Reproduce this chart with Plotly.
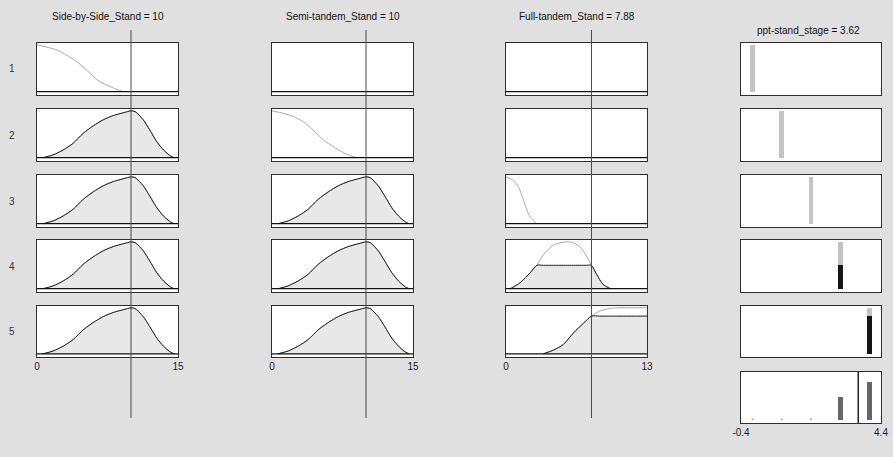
import plotly.graph_objects as go
import numpy as np

W, H = 893, 457

# ---------------- data ----------------
input_names = ["Side-by-Side_Stand", "Semi-tandem_Stand", "Full-tandem_Stand"]
input_values = [10, 10, 7.88]
input_ranges = [[0, 15], [0, 15], [0, 13]]
input_tick_text = [["0", "15"], ["0", "15"], ["0", "13"]]

output_name = "ppt-stand_stage"
output_value = 3.62
output_range = [-0.4, 4.4]
output_tick_text = ["-0.4", "4.4"]

rule_labels = ["1", "2", "3", "4", "5"]

# membership function curves (x, mu)
sbs_low_x = [0, 1.0, 2.1, 3.18, 4.24, 5.3, 6.36, 7.4, 8.5, 9.2]
sbs_low_y = [1.0, 0.955, 0.89, 0.78, 0.64, 0.46, 0.26, 0.14, 0.05, 0.0]
sbs_high_x = [0.64, 1.71, 2.78, 3.85, 4.91, 5.98, 7.05, 8.12, 9.19, 10.0, 10.44, 11.3, 12.0, 12.75, 13.46, 14.2, 14.6]
sbs_high_y = [0.0, 0.06, 0.165, 0.31, 0.52, 0.68, 0.81, 0.90, 0.96, 1.0, 0.985, 0.81, 0.59, 0.34, 0.165, 0.036, 0.0]
semi_low_x = [0, 1.18, 2.25, 3.32, 4.39, 5.46, 6.54, 7.6, 8.68, 9.2]
semi_low_y = [1.0, 0.95, 0.88, 0.77, 0.59, 0.38, 0.235, 0.107, 0.02, 0.0]
semi_high_x = [0.64, 1.71, 2.78, 3.85, 4.91, 5.98, 7.05, 8.12, 9.19, 10.0, 10.44, 11.3, 12.0, 12.75, 13.46, 14.2, 14.6]
semi_high_y = [0.0, 0.06, 0.165, 0.31, 0.52, 0.68, 0.81, 0.90, 0.96, 1.0, 0.985, 0.81, 0.59, 0.34, 0.165, 0.036, 0.0]
full_low_x = [0, 0.7, 1.16, 1.62, 2.07, 2.53, 2.84]
full_low_y = [1.0, 0.92, 0.78, 0.5, 0.21, 0.06, 0.0]
full_mid_x = [0.4, 1.31, 2.23, 2.84, 3.45, 4.37, 5.28, 5.65, 6.05, 6.8, 7.43, 7.88, 8.35, 8.95, 9.63]
full_mid_y = [0.0, 0.13, 0.34, 0.5, 0.73, 0.93, 0.995, 1.0, 0.99, 0.9, 0.70, 0.5, 0.31, 0.09, 0.0]
full_high_x = [3.45, 4.37, 5.28, 6.2, 7.12, 7.88, 8.65, 9.57, 10.18, 13.0]
full_high_y = [0.0, 0.08, 0.2, 0.45, 0.66, 0.82, 0.93, 0.985, 1.0, 1.0]

# membership degree of the current input in each MF
sbs_low_deg, sbs_high_deg = 0.0, 1.0
semi_low_deg, semi_high_deg = 0.0, 1.0
full_low_deg, full_mid_deg, full_high_deg = 0.0, 0.5, 0.82

# rule antecedents (None = input not used)
rule_mfs = [
    [(sbs_low_x, sbs_low_y, sbs_low_deg), None, None],
    [(sbs_high_x, sbs_high_y, sbs_high_deg), (semi_low_x, semi_low_y, semi_low_deg), None],
    [(sbs_high_x, sbs_high_y, sbs_high_deg), (semi_high_x, semi_high_y, semi_high_deg), (full_low_x, full_low_y, full_low_deg)],
    [(sbs_high_x, sbs_high_y, sbs_high_deg), (semi_high_x, semi_high_y, semi_high_deg), (full_mid_x, full_mid_y, full_mid_deg)],
    [(sbs_high_x, sbs_high_y, sbs_high_deg), (semi_high_x, semi_high_y, semi_high_deg), (full_high_x, full_high_y, full_high_deg)],
]
output_levels = [0, 1, 2, 3, 4]
rule_firing = [0.0, 0.0, 0.0, 0.5, 0.82]

# ---------------- styling ----------------
FONT = "Liberation Sans, Arial, sans-serif"
BG = "#e0e0e0"
FILL = "#e8e8e8"
LIGHT_LINE = "#a8a8a8"
DARK_LINE = "#1e1e1e"
BOX = "#2e2e2e"

col_px = [(37, 178), (272, 413), (506, 647), (741, 881)]
row_px = [(43, 95), (109, 161), (175, 227), (240, 292), (306, 357), (372, 423)]
YR = [-0.07, 1.04]

fig = go.Figure()
layout_axes = {}
ax_id = {}
k = 0


def add_axis(r, c, xrange, ticks=None, ticktext=None):
    global k
    k += 1
    x0, x1 = col_px[c]
    y0, y1 = row_px[r]
    xn = "xaxis" if k == 1 else f"xaxis{k}"
    yn = "yaxis" if k == 1 else f"yaxis{k}"
    xa = f"x{k}" if k > 1 else "x"
    ya = f"y{k}" if k > 1 else "y"
    layout_axes[xn] = dict(
        domain=[x0 / W, x1 / W], range=xrange, anchor=ya,
        showgrid=False, zeroline=False, showline=True, mirror=True,
        linecolor=BOX, linewidth=1, ticks="", fixedrange=True,
        showticklabels=ticks is not None, automargin=False,
        tickvals=ticks, ticktext=ticktext,
        tickfont=dict(family=FONT, size=10, color="#222"),
    )
    layout_axes[yn] = dict(
        domain=[1 - y1 / H, 1 - y0 / H], range=YR, anchor=xa,
        showgrid=False, zeroline=False, showline=True, mirror=True,
        linecolor=BOX, linewidth=1, ticks="", showticklabels=False,
        fixedrange=True, automargin=False,
    )
    ax_id[(r, c)] = (xa, ya)
    return xa, ya


# input panels
for r in range(5):
    for c in range(3):
        bottom = r == 4
        xa, ya = add_axis(r, c, input_ranges[c],
                          ticks=input_ranges[c] if bottom else None,
                          ticktext=input_tick_text[c] if bottom else None)
        mf = rule_mfs[r][c]
        if mf is not None:
            mx, my, deg = mf
            my = np.array(my)
            if deg > 0:
                clipped = np.minimum(my, deg)
                fig.add_trace(go.Scatter(x=mx, y=clipped, xaxis=xa, yaxis=ya,
                                         mode="lines", line=dict(width=0, shape="spline", smoothing=0.7),
                                         fill="tozeroy", fillcolor=FILL, hoverinfo="skip"))
            fig.add_trace(go.Scatter(x=mx, y=my, xaxis=xa, yaxis=ya, mode="lines",
                                     line=dict(color=LIGHT_LINE, width=1, shape="spline", smoothing=0.7),
                                     hoverinfo="skip"))
            if deg > 0:
                fig.add_trace(go.Scatter(x=mx, y=np.minimum(my, deg), xaxis=xa, yaxis=ya, mode="lines",
                                         line=dict(color=DARK_LINE, width=1, shape="spline", smoothing=0.7),
                                         hoverinfo="skip"))
        # baseline
        fig.add_trace(go.Scatter(x=input_ranges[c], y=[0, 0], xaxis=xa, yaxis=ya, mode="lines",
                                 line=dict(color="#111", width=1.2), hoverinfo="skip"))

# output panels (per rule)
BW = 0.17
for r in range(5):
    xa, ya = add_axis(r, 3, output_range)
    fig.add_trace(go.Bar(x=[output_levels[r]], y=[1.0], width=[BW], xaxis=xa, yaxis=ya,
                         marker=dict(color="#c3c3c3", line=dict(width=0)), hoverinfo="skip"))
    if rule_firing[r] > 0:
        fig.add_trace(go.Bar(x=[output_levels[r]], y=[rule_firing[r]], width=[BW], xaxis=xa, yaxis=ya,
                             marker=dict(color="#151515", line=dict(width=0)), hoverinfo="skip"))

# aggregate output panel
xa, ya = add_axis(5, 3, output_range, ticks=output_range, ticktext=output_tick_text)
fig.add_trace(go.Bar(x=output_levels, y=rule_firing, width=[BW] * 5, xaxis=xa, yaxis=ya,
                     marker=dict(color="#666666", line=dict(width=0)), hoverinfo="skip"))
zero_x = [lv for lv, f in zip(output_levels, rule_firing) if f == 0]
fig.add_trace(go.Scatter(x=zero_x, y=[0.01] * len(zero_x), xaxis=xa, yaxis=ya, mode="markers",
                         marker=dict(color="#b8b8b8", size=2, symbol="square"), hoverinfo="skip"))

shapes = []
# input value vertical lines
for c in range(3):
    xa_c = ax_id[(0, c)][0]
    shapes.append(dict(type="line", xref=xa_c, yref="paper", x0=input_values[c], x1=input_values[c],
                       y0=1 - 418 / H, y1=1 - 30 / H, line=dict(color="#4a4a4a", width=1)))
# output value line
xa_o, ya_o = ax_id[(5, 3)]
shapes.append(dict(type="line", xref=xa_o, yref=f"{ya_o} domain", x0=output_value, x1=output_value,
                   y0=0, y1=1, line=dict(color="#222", width=1.5)))

annotations = []
title_px = [(107.5, 16), (342.5, 16), (576.5, 16), (808, 31)]
titles = [f"{n} = {v:g}" for n, v in zip(input_names, input_values)] + [f"{output_name} = {output_value:g}"]
for (tx, ty), t in zip(title_px, titles):
    annotations.append(dict(text=t, x=tx / W, y=1 - ty / H, xref="paper", yref="paper",
                            showarrow=False, xanchor="center", yanchor="middle",
                            font=dict(family=FONT, size=10, color="#111")))
for r, lab in enumerate(rule_labels):
    cy = (row_px[r][0] + row_px[r][1]) / 2
    annotations.append(dict(text=lab, x=12 / W, y=1 - cy / H, xref="paper", yref="paper",
                            showarrow=False, xanchor="center", yanchor="middle",
                            font=dict(family=FONT, size=10, color="#333")))

fig.update_layout(
    width=W, height=H, margin=dict(l=0, r=0, t=0, b=0, pad=0), autosize=False,
    paper_bgcolor=BG, plot_bgcolor="white", showlegend=False,
    barmode="overlay", bargap=0,
    shapes=shapes, annotations=annotations,
    **layout_axes,
)

fig.write_html("out.html", config={"displayModeBar": False})
